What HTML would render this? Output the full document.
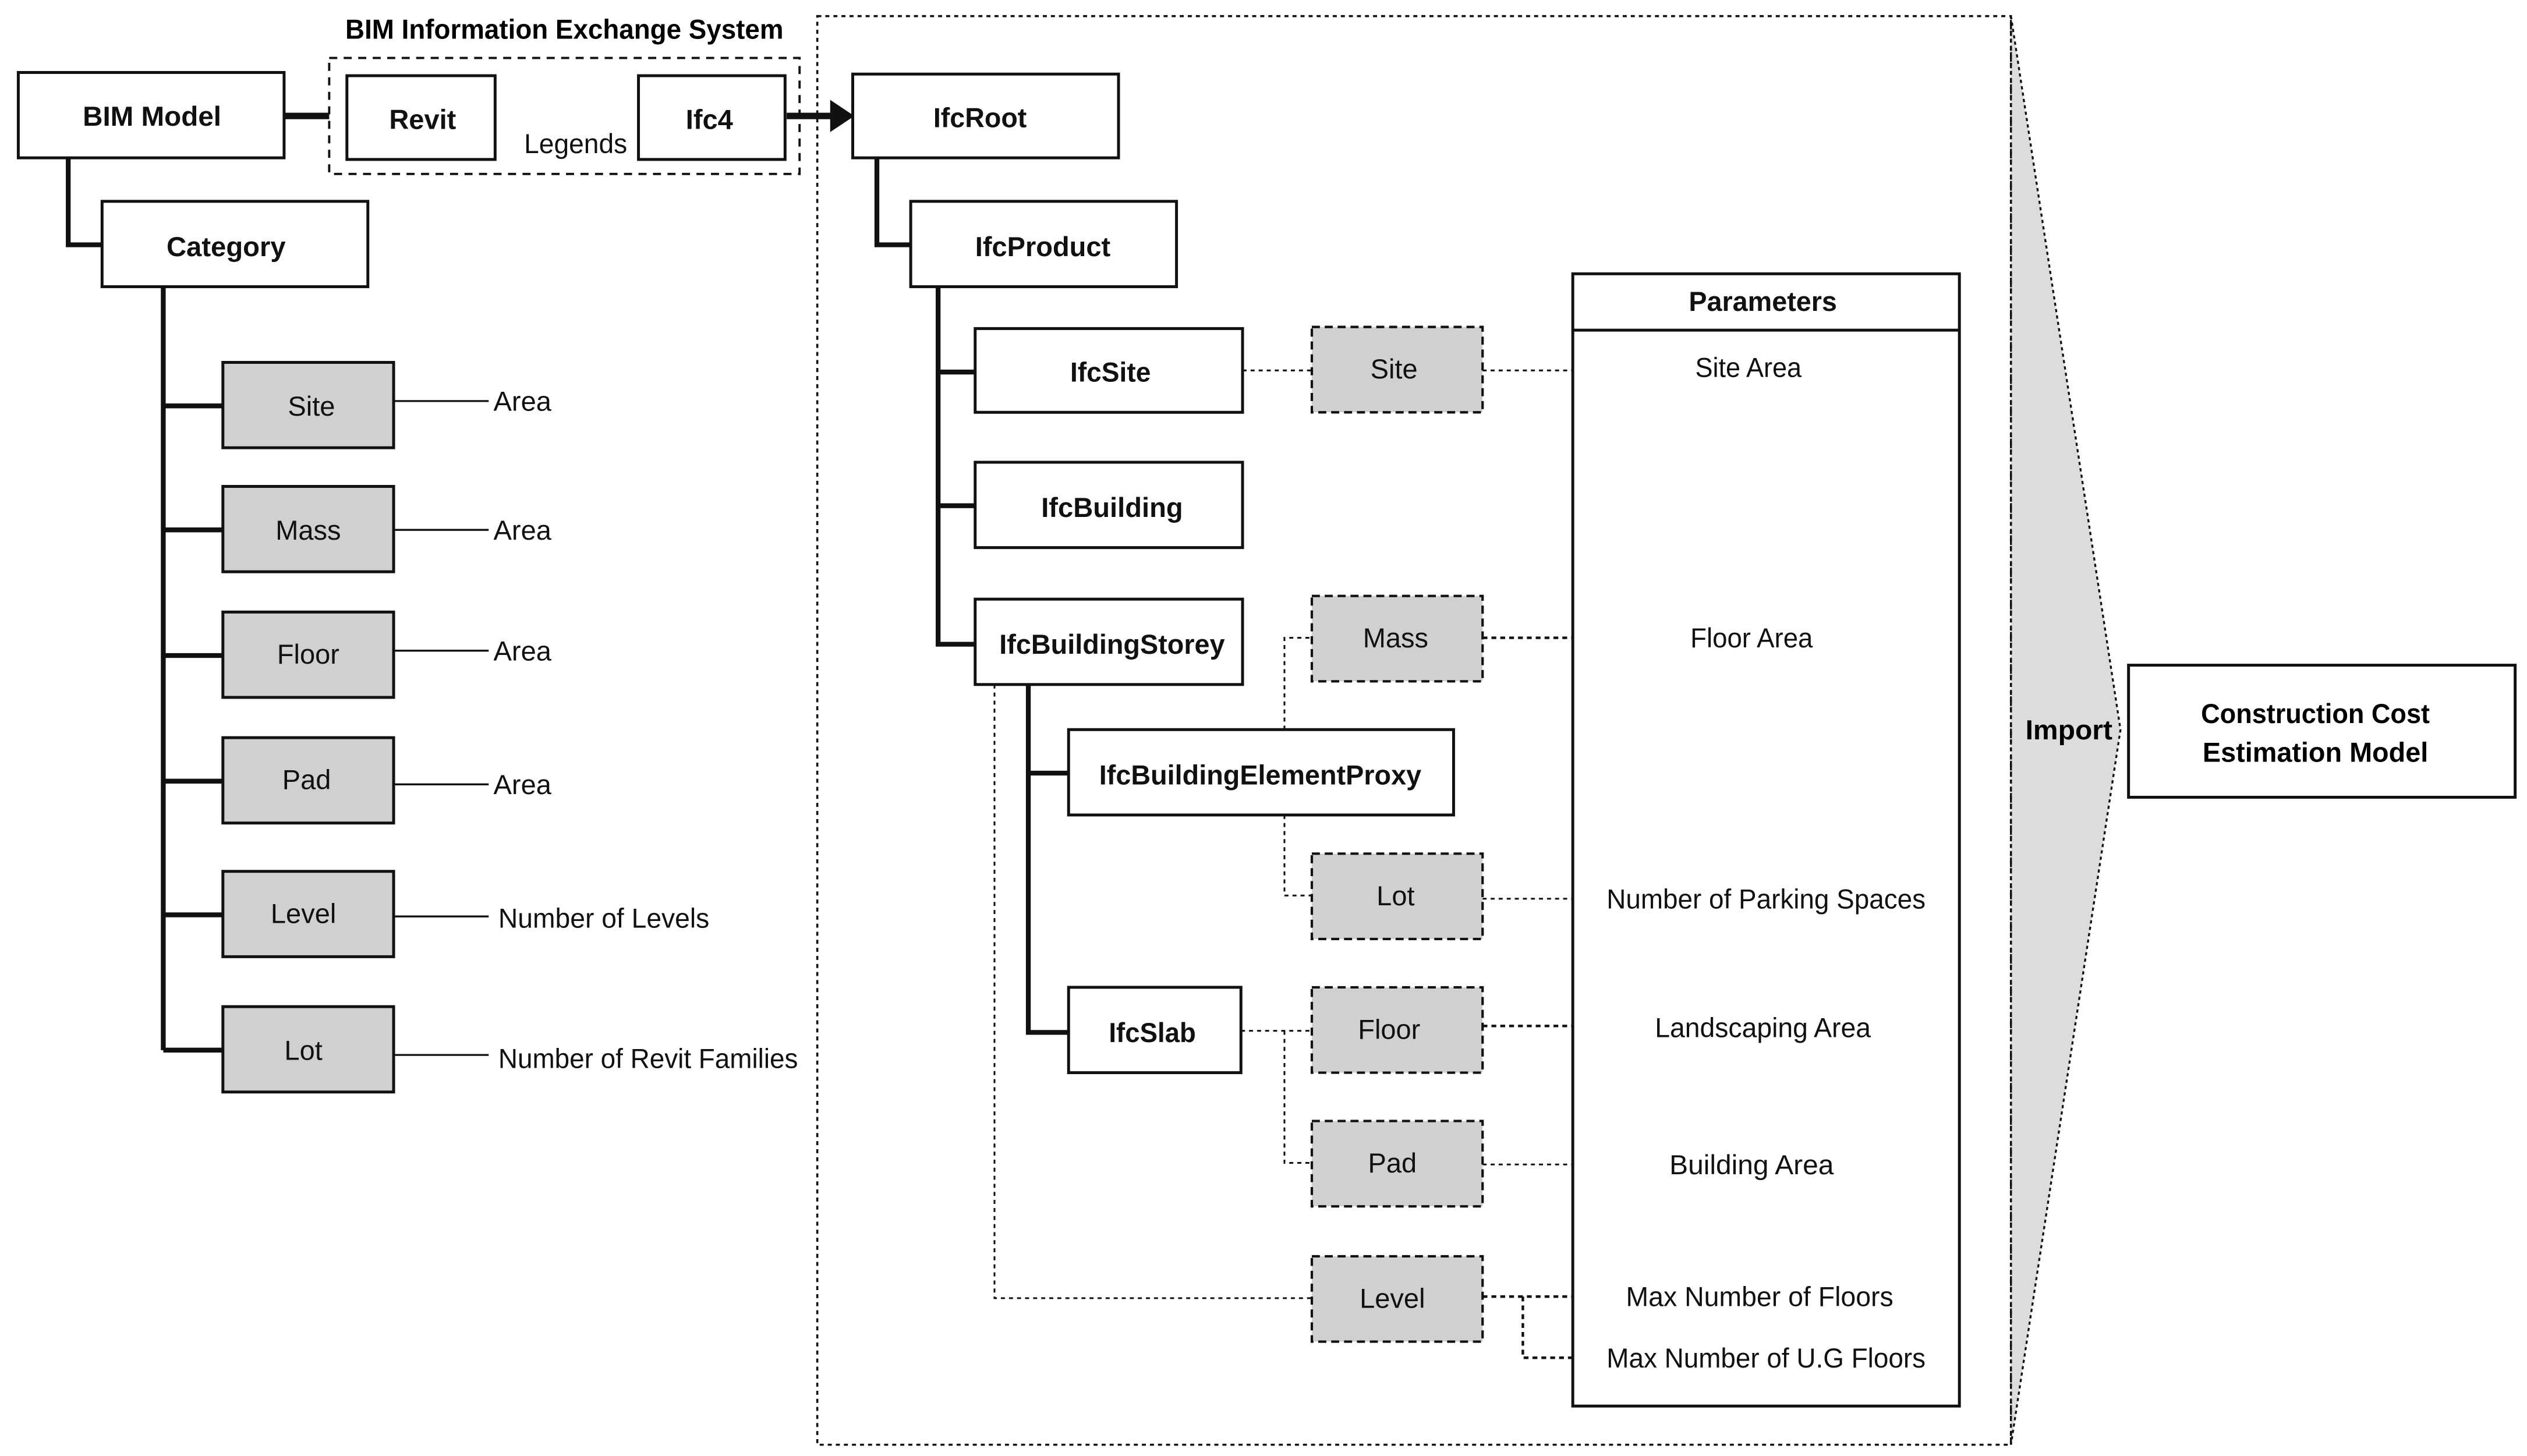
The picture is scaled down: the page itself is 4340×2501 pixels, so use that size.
<!DOCTYPE html>
<html><head><meta charset="utf-8"><style>html,body{margin:0;padding:0;background:#fff}svg{display:block}</style></head>
<body>
<svg xmlns="http://www.w3.org/2000/svg" width="4340" height="2501" viewBox="0 0 1568 904" font-family="'Liberation Sans', sans-serif">
<rect width="1568" height="904" fill="#fff"/>
<!-- import triangle -->
<polygon points="1248,10 1316,453 1248,897" fill="#dcdcdc" stroke="#111" stroke-width="1.2" stroke-dasharray="2,2"/>
<rect x="507" y="10" width="741" height="887" fill="none" stroke="#111" stroke-width="1.3" stroke-dasharray="2.5,2.5"/>
<text x="1284" y="459" font-size="17" font-weight="bold" text-anchor="middle" textLength="54" lengthAdjust="spacingAndGlyphs">Import</text>
<rect x="1321" y="413" width="240" height="82" fill="#fff" stroke="#111" stroke-width="1.8"/>
<text x="1437" y="449" font-size="17" font-weight="bold" text-anchor="middle" textLength="142" lengthAdjust="spacingAndGlyphs">Construction Cost</text>
<text x="1437" y="473" font-size="17" font-weight="bold" text-anchor="middle" textLength="140" lengthAdjust="spacingAndGlyphs">Estimation Model</text>

<!-- title -->
<text x="350" y="24" font-size="17" font-weight="bold" text-anchor="middle" textLength="272" lengthAdjust="spacingAndGlyphs">BIM Information Exchange System</text>
<rect x="204" y="36" width="292" height="72" fill="none" stroke="#111" stroke-width="1.4" stroke-dasharray="5,4"/>

<g stroke="#111" fill="none">
<!-- thick connectors -->
<path d="M176 72H204" stroke-width="4"/>
<path d="M488 72H518" stroke-width="4"/>
<path d="M42 98V152H63" stroke-width="3"/>
<path d="M101 178V652" stroke-width="3"/>
<path d="M101 252H138M101 329H138M101 407H138M101 485H138M101 568H138M101 652H138" stroke-width="3"/>
<path d="M544 98V152H565" stroke-width="3"/>
<path d="M582 178V400H605M582 231H605M582 314H605" stroke-width="3"/>
<path d="M638 425V641H663M638 480H663" stroke-width="3"/>
<!-- thin lines left -->
<path d="M244 249H303M244 329H303M244 404H303M244 487H303M244 569H303M244 655H303" stroke-width="1.2"/>
<!-- dotted -->
<g stroke-width="1.1" stroke-dasharray="2.5,2.5">
<path d="M771 230H814M920 230H976"/>
<path d="M797 453V396H814"/>
<path d="M797 506V556H814M920 558H976"/>
<path d="M770 640H814M797 640V722H814M920 723H976"/>
<path d="M617 425V806H814"/>
</g>
<g stroke-width="1.6" stroke-dasharray="3,2.5">
<path d="M920 396H976M920 637H976M920 805H976M945 805V843H976"/>
</g>
</g>
<polygon points="515,62 530,72 515,82" fill="#111"/>

<!-- white boxes -->
<g fill="#fff" stroke="#111" stroke-width="1.8">
<rect x="11" y="45" width="165" height="53"/>
<rect x="215" y="47" width="92" height="52"/>
<rect x="396" y="47" width="91" height="52"/>
<rect x="63" y="125" width="165" height="53"/>
<rect x="529" y="46" width="165" height="52"/>
<rect x="565" y="125" width="165" height="53"/>
<rect x="605" y="204" width="166" height="52"/>
<rect x="605" y="287" width="166" height="53"/>
<rect x="605" y="372" width="166" height="53"/>
<rect x="663" y="453" width="239" height="53"/>
<rect x="663" y="613" width="107" height="53"/>
<rect x="976" y="170" width="240" height="703"/>
</g>
<path d="M976 205H1216" stroke="#111" stroke-width="1.8"/>
<!-- gray left boxes -->
<g fill="#d0d0d0" stroke="#111" stroke-width="1.8">
<rect x="138" y="225" width="106" height="53"/>
<rect x="138" y="302" width="106" height="53"/>
<rect x="138" y="380" width="106" height="53"/>
<rect x="138" y="458" width="106" height="53"/>
<rect x="138" y="541" width="106" height="53"/>
<rect x="138" y="625" width="106" height="53"/>
</g>
<!-- gray dashed -->
<g fill="#d0d0d0" stroke="#111" stroke-width="1.5" stroke-dasharray="5,3">
<rect x="814" y="203" width="106" height="53"/>
<rect x="814" y="370" width="106" height="53"/>
<rect x="814" y="530" width="106" height="53"/>
<rect x="814" y="613" width="106" height="53"/>
<rect x="814" y="696" width="106" height="53"/>
<rect x="814" y="780" width="106" height="53"/>
</g>

<!-- bold labels -->
<g font-size="17" font-weight="bold" text-anchor="middle" fill="#111">
<text x="94" y="78" textLength="86" lengthAdjust="spacingAndGlyphs">BIM Model</text>
<text x="262" y="80">Revit</text>
<text x="440" y="80">Ifc4</text>
<text x="140" y="159" textLength="74" lengthAdjust="spacingAndGlyphs">Category</text>
<text x="608" y="79" textLength="58" lengthAdjust="spacingAndGlyphs">IfcRoot</text>
<text x="647" y="159" textLength="84" lengthAdjust="spacingAndGlyphs">IfcProduct</text>
<text x="689" y="237" textLength="50" lengthAdjust="spacingAndGlyphs">IfcSite</text>
<text x="690" y="321" textLength="88" lengthAdjust="spacingAndGlyphs">IfcBuilding</text>
<text x="690" y="406" textLength="140" lengthAdjust="spacingAndGlyphs">IfcBuildingStorey</text>
<text x="782" y="487" textLength="200" lengthAdjust="spacingAndGlyphs">IfcBuildingElementProxy</text>
<text x="715" y="647" textLength="54" lengthAdjust="spacingAndGlyphs">IfcSlab</text>
<text x="1094" y="193" textLength="92" lengthAdjust="spacingAndGlyphs">Parameters</text>
</g>
<!-- regular labels -->
<g font-size="17" text-anchor="middle" fill="#111">
<text x="357" y="95" textLength="64" lengthAdjust="spacingAndGlyphs">Legends</text>
<text x="193" y="258">Site</text>
<text x="191" y="335">Mass</text>
<text x="191" y="412">Floor</text>
<text x="190" y="490">Pad</text>
<text x="188" y="573">Level</text>
<text x="188" y="658">Lot</text>
<text x="865" y="235">Site</text>
<text x="866" y="402">Mass</text>
<text x="866" y="562">Lot</text>
<text x="862" y="645">Floor</text>
<text x="864" y="728">Pad</text>
<text x="864" y="812">Level</text>
<text x="1085" y="234" textLength="66" lengthAdjust="spacingAndGlyphs">Site Area</text>
<text x="1087" y="402" textLength="76" lengthAdjust="spacingAndGlyphs">Floor Area</text>
<text x="1096" y="564" textLength="198" lengthAdjust="spacingAndGlyphs">Number of Parking Spaces</text>
<text x="1094" y="644" textLength="134" lengthAdjust="spacingAndGlyphs">Landscaping Area</text>
<text x="1087" y="729" textLength="102" lengthAdjust="spacingAndGlyphs">Building Area</text>
<text x="1092" y="811" textLength="166" lengthAdjust="spacingAndGlyphs">Max Number of Floors</text>
<text x="1096" y="849" textLength="198" lengthAdjust="spacingAndGlyphs">Max Number of U.G Floors</text>
</g>
<g font-size="17" fill="#111">
<text x="306" y="255">Area</text>
<text x="306" y="335">Area</text>
<text x="306" y="410">Area</text>
<text x="306" y="493">Area</text>
<text x="309" y="576" textLength="131" lengthAdjust="spacingAndGlyphs">Number of Levels</text>
<text x="309" y="663" textLength="186" lengthAdjust="spacingAndGlyphs">Number of Revit Families</text>
</g>
</svg>
</body></html>
